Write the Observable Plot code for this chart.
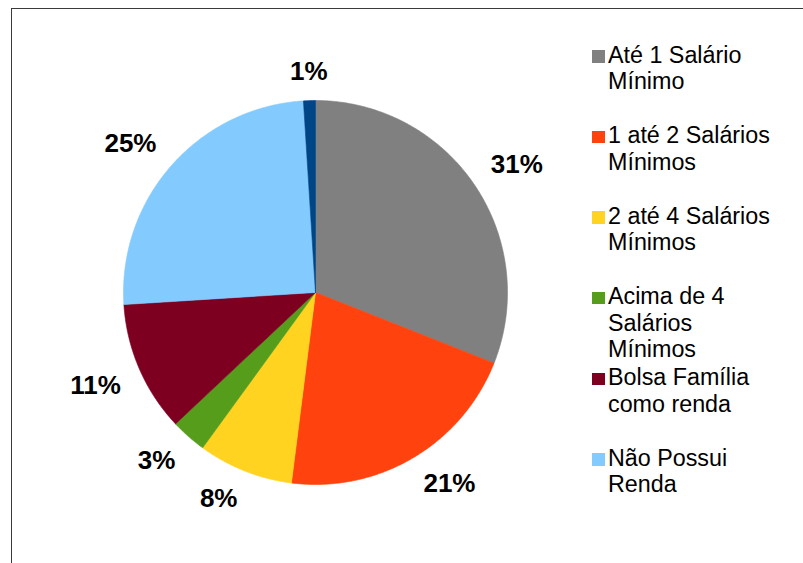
<!DOCTYPE html>
<html>
<head>
<meta charset="utf-8">
<script src="https://cdn.jsdelivr.net/npm/d3@7"></script>
<script src="https://cdn.jsdelivr.net/npm/@observablehq/plot@0.6"></script>
<style>
  body { margin: 0; background: #fff; font-family: "Liberation Sans", Arial, sans-serif; }
  #wrap { position: relative; width: 803px; height: 563px; overflow: hidden; background: #fff; }
  #frame { position: absolute; left: 11px; top: 8px; width: 900px; height: 700px;
           border-left: 1.5px solid #3a3a3a; border-top: 1.5px solid #3a3a3a; pointer-events: none; }
  #legend { position: absolute; left: 592px; top: 41.5px; }
  .item { height: 80.66px; display: flex; align-items: flex-start; }
  .sw { width: 13px; height: 12.5px; margin-top: 8.5px; margin-right: 3px; flex: none; }
  .lbl { font-size: 23.3px; line-height: 26.5px; width: 168px; color: #000; }
  #chart svg { display: block; }
</style>
</head>
<body>
<div id="wrap">
  <div id="chart"></div>
  <div id="legend"></div>
  <div id="frame"></div>
</div>
<script>
// ---- data ----
const categories = [
  "Até 1 Salário Mínimo",
  "1 até 2 Salários Mínimos",
  "2 até 4 Salários Mínimos",
  "Acima de 4 Salários Mínimos",
  "Bolsa Família como renda",
  "Não Possui Renda",
  "Outros"
];
const values = [31, 21, 8, 3, 11, 25, 1];
const labels = ["31%", "21%", "8%", "3%", "11%", "25%", "1%"];
const colors = ["#808080", "#FF420E", "#FFD320", "#579D1C", "#7E0021", "#83CAFF", "#004586"];
const legendCount = 6;

// ---- layout ----
const W = 803, H = 563;
const cx = 315, cy = 292, R = 192;
const labelGap = 20, labelFont = 26, labelH = 18;

const total = d3.sum(values);
const slicePts = [];
const labelPts = [];
const ctx = document.createElement("canvas").getContext("2d");
ctx.font = `bold ${labelFont}px "Liberation Sans", Arial, sans-serif`;

let acc = 0;
values.forEach((v, i) => {
  const a0 = acc / total * 2 * Math.PI;
  acc += v;
  const a1 = acc / total * 2 * Math.PI;
  const cat = categories[i];
  slicePts.push({cat, x: 0, y: 0});
  const n = Math.max(4, Math.ceil((a1 - a0) / (Math.PI / 360)));
  for (let k = 0; k <= n; k++) {
    const a = a0 + (a1 - a0) * k / n;
    slicePts.push({cat, x: Math.sin(a), y: Math.cos(a)});
  }
  slicePts.push({cat, x: 0, y: 0});
  // label: anchor point outside the arc, text box attached by its nearest corner
  const am = (a0 + a1) / 2;
  const s = Math.sin(am), c = Math.cos(am);
  const w = ctx.measureText(labels[i]).width;
  const hx = Math.abs(s) < 0.12 ? 0 : Math.sign(s);
  const vy = Math.abs(c) < 0.12 ? 0 : Math.sign(c);
  const sx = cx + (R + labelGap) * s + hx * w / 2;
  const sy = cy - (R + labelGap) * c - vy * labelH / 2;
  labelPts.push({text: labels[i], x: (sx - cx) / R, y: (cy - sy) / R});
});

const plot = Plot.plot({
  width: W, height: H, margin: 0,
  style: {fontFamily: '"Liberation Sans", Arial, sans-serif', background: "transparent"},
  x: {domain: [-1, 1], range: [cx - R, cx + R], axis: null},
  y: {domain: [-1, 1], range: [cy + R, cy - R], axis: null},
  color: {domain: categories, range: colors},
  marks: [
    Plot.line(slicePts, {x: "x", y: "y", z: "cat", fill: "cat", stroke: "cat", strokeWidth: 0.6, curve: "linear"}),
    Plot.text(labelPts, {x: "x", y: "y", text: "text", fontSize: labelFont, fontWeight: "bold",
      fill: "#000", textAnchor: "middle", lineAnchor: "middle"})
  ]
});
document.getElementById("chart").appendChild(plot);

// legend
const leg = document.getElementById("legend");
categories.slice(0, legendCount).forEach((cat, i) => {
  const item = document.createElement("div");
  item.className = "item";
  const sw = document.createElement("div");
  sw.className = "sw";
  sw.style.background = colors[i];
  const lb = document.createElement("div");
  lb.className = "lbl";
  lb.textContent = cat;
  item.appendChild(sw);
  item.appendChild(lb);
  leg.appendChild(item);
});
</script>
</body>
</html>
